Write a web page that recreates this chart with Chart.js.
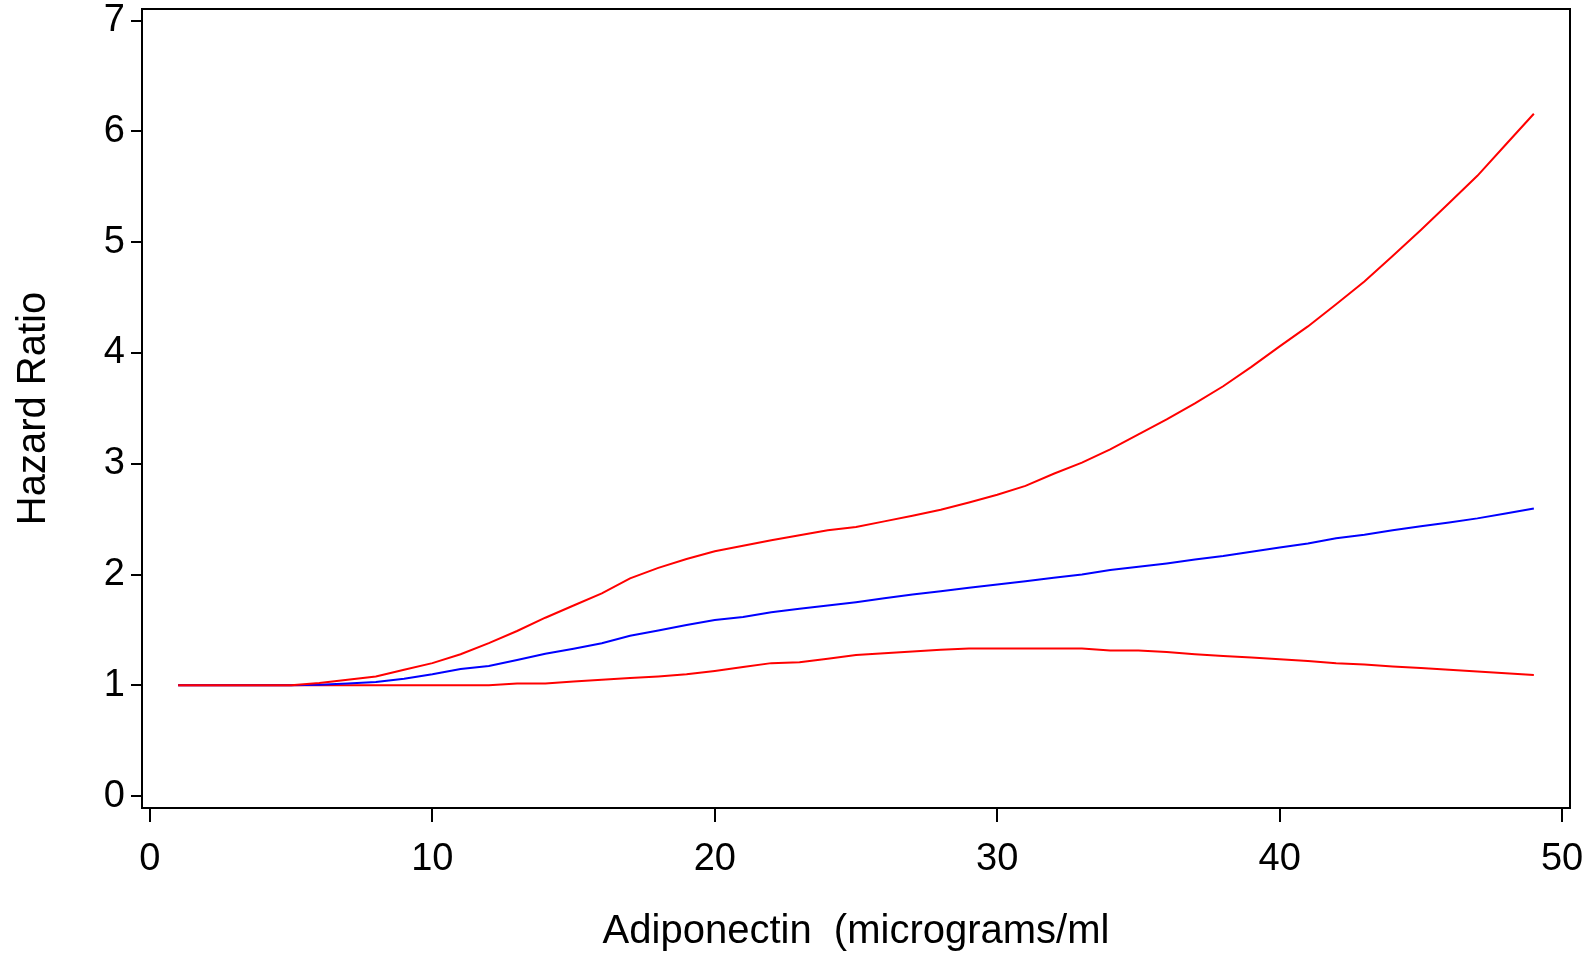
<!DOCTYPE html>
<html>
<head>
<meta charset="utf-8">
<script src="https://cdn.jsdelivr.net/npm/chart.js@4"></script>
<style>
  html, body { margin: 0; padding: 0; background: #fff; }
  canvas { display: block; }
</style>
</head>
<body>
<canvas id="myChart" width="1591" height="956"></canvas>
<script>
// adiponectin values, micrograms/ml
const adiponectin = [1, 2, 3, 4, 5, 6, 7, 8, 9, 10, 11, 12, 13, 14, 15, 16, 17, 18, 19, 20, 21, 22, 23, 24, 25,
    26, 27, 28, 29, 30, 31, 32, 33, 34, 35, 36, 37, 38, 39, 40, 41, 42, 43, 44, 45, 46, 47, 48, 49];
const hazardRatio = [1.0, 1.0, 1.0, 1.0, 1.0, 1.005, 1.015, 1.03, 1.06, 1.10, 1.147, 1.175, 1.228, 1.285, 1.33,
    1.38, 1.447, 1.495, 1.545, 1.59, 1.616, 1.66, 1.69, 1.72, 1.75, 1.785, 1.82, 1.85, 1.88, 1.91, 1.94, 1.97,
    2.0, 2.04, 2.07, 2.10, 2.135, 2.167, 2.205, 2.245, 2.28, 2.327, 2.36, 2.40, 2.435, 2.47, 2.507, 2.55, 2.597];
const upperLimit = [1.0, 1.0, 1.0, 1.0, 1.0, 1.02, 1.05, 1.08, 1.14, 1.20, 1.28, 1.38, 1.49, 1.61, 1.72, 1.83,
    1.965, 2.06, 2.14, 2.21, 2.26, 2.31, 2.355, 2.40, 2.43, 2.48, 2.53, 2.585, 2.65, 2.72, 2.80, 2.91, 3.01,
    3.13, 3.265, 3.40, 3.545, 3.70, 3.875, 4.06, 4.24, 4.44, 4.645, 4.875, 5.11, 5.355, 5.60, 5.88, 6.16];
const lowerLimit = [1.0, 1.0, 1.0, 1.0, 1.0, 1.0, 1.0, 1.0, 1.0, 1.0, 1.0, 1.0, 1.017, 1.017, 1.035, 1.05,
    1.065, 1.08, 1.10, 1.13, 1.165, 1.20, 1.207, 1.24, 1.273, 1.29, 1.305, 1.32, 1.333, 1.333, 1.333, 1.333,
    1.333, 1.315, 1.315, 1.30, 1.28, 1.265, 1.25, 1.235, 1.22, 1.20, 1.187, 1.17, 1.155, 1.14, 1.125, 1.108, 1.092];
const X_TICKS = [0, 10, 20, 30, 40, 50];
const Y_TICKS = [0, 1, 2, 3, 4, 5, 6, 7];

const FONT_FAMILY = '"Liberation Sans", Arial, sans-serif';
const RED = '#ff0000';
const BLUE = '#0000ff';

function toPoints(values) {
    return adiponectin.map((x, i) => ({ x: x, y: values[i] }));
}

function makeDataset(values, color) {
    return {
        data: toPoints(values),
        borderColor: color,
        backgroundColor: color,
        borderWidth: 2,
        pointRadius: 0,
        tension: 0,
        fill: false,
    };
}

// no extra room for overhanging tick labels, the layout padding decides the box
function noOverhang(scale) {
    scale.paddingTop = 0;
    scale.paddingBottom = 0;
    scale.paddingLeft = 0;
    scale.paddingRight = 0;
}

// draws the closed box round the plot area
const frame = {
    id: 'frame',
    afterDatasetsDraw(chart) {
        const { ctx, chartArea } = chart;
        ctx.save();
        ctx.strokeStyle = '#000';
        ctx.lineWidth = 2;
        ctx.strokeRect(chartArea.left, chartArea.top, chartArea.right - chartArea.left, chartArea.bottom - chartArea.top);
        ctx.restore();
    }
};

const config = {
    type: 'line',
    data: {
        datasets: [
            makeDataset(upperLimit, RED),
            makeDataset(hazardRatio, BLUE),
            makeDataset(lowerLimit, RED),
        ],
    },
    options: {
        responsive: false,
        animation: false,
        devicePixelRatio: 1,
        layout: { padding: { top: 9, right: 21, left: 0, bottom: 0 } },
        plugins: {
            legend: { display: false },
            tooltip: { enabled: false },
        },
        scales: {
            x: {
                type: 'linear',
                min: -0.28,
                max: 50.28,
                afterFit: (scale) => { scale.height = 148; noOverhang(scale); },
                afterBuildTicks: (scale) => { scale.ticks = X_TICKS.map((v) => ({ value: v })); },
                border: { display: false },
                grid: { drawOnChartArea: false, drawTicks: true, tickLength: 14, color: '#000', lineWidth: 2 },
                ticks: { color: '#000', padding: 15, maxRotation: 0, font: { family: FONT_FAMILY, size: 38 } },
                title: {
                    display: true,
                    text: 'Adiponectin  (micrograms/ml',
                    color: '#000',
                    padding: { top: 0, bottom: 0 },
                    font: { family: FONT_FAMILY, size: 40 },
                },
            },
            y: {
                type: 'linear',
                min: -0.108,
                max: 7.106,
                afterFit: (scale) => { scale.width = 142; noOverhang(scale); },
                afterBuildTicks: (scale) => { scale.ticks = Y_TICKS.map((v) => ({ value: v })); },
                border: { display: false },
                grid: { drawOnChartArea: false, drawTicks: true, tickLength: 11, color: '#000', lineWidth: 2 },
                ticks: { color: '#000', padding: 6, font: { family: FONT_FAMILY, size: 38 } },
                title: {
                    display: true,
                    text: 'Hazard Ratio',
                    color: '#000',
                    padding: { top: 10, bottom: 0 },
                    font: { family: FONT_FAMILY, size: 40 },
                },
            },
        },
    },
    plugins: [frame],
};

const myChart = new Chart(document.querySelector('#myChart'), config);
</script>
</body>
</html>
